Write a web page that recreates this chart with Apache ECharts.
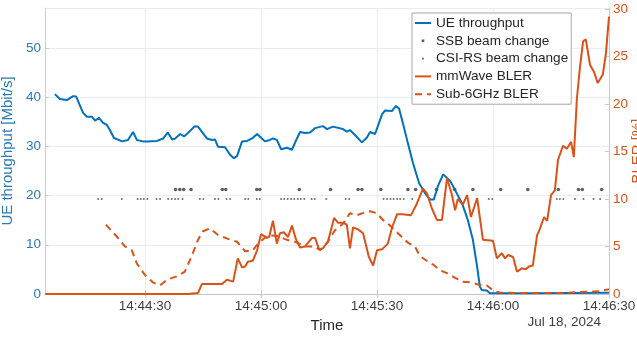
<!DOCTYPE html>
<html>
<head>
<meta charset="utf-8">
<title>UE throughput and BLER</title>
<script src="https://cdn.jsdelivr.net/npm/echarts@6/dist/echarts.min.js"></script>
<style>
  html, body { margin: 0; padding: 0; background: #fff; }
  #chart { width: 637px; height: 338px; }
</style>
</head>
<body>
<div id="chart"></div>
<script>
// time is in seconds after 14:44:00 (Jul 18, 2024)
const xTicks = [30, 60, 90, 120, 150]
const xTickLabels = ['14:44:30', '14:45:00', '14:45:30', '14:46:00', '14:46:30']

// UE throughput [Mbit/s]
const tpTime = [6.7, 8.0, 9.8, 11.4, 12.2, 14.0, 15.0, 16.3, 17.1, 18.1, 19.1, 20.2, 20.9, 22.0, 24.1, 25.6, 26.1, 26.9, 27.9, 29.5,
    30.5, 31.0, 33.1, 34.7, 35.9, 37.0, 37.8, 39.1, 40.1, 41.1, 42.9, 43.7, 46.0, 47.3, 48.1, 48.9, 50.7, 52.0, 53.0, 53.8,
    55.1, 56.4, 57.7, 59.0, 59.7, 61.0, 62.3, 63.1, 64.1, 65.2, 66.7, 68.0, 69.3, 70.1, 71.4, 72.7, 74.0, 76.0, 77.1, 78.6,
    81.2, 82.2, 83.0, 84.3, 86.1, 87.4, 88.2, 89.5, 91.3, 92.1, 93.9, 94.9, 95.7, 96.7, 98.0, 99.3, 100.9, 102.4, 103.7, 104.7,
    105.8, 107.1, 108.9, 110.2, 112.0, 113.5, 114.8, 115.9, 116.6, 117.1, 118.4, 119.2, 130, 140, 150]
const tpValue = [40.6, 39.6, 39.4, 40.2, 40.1, 36.8, 36.0, 36.0, 35.2, 35.8, 34.8, 34.3, 33.3, 31.7, 31.0, 31.3, 31.3, 32.9, 31.3, 31.0,
    31.0, 30.8, 31.1, 31.6, 32.8, 31.4, 31.6, 32.5, 32.0, 32.7, 34.1, 34.0, 31.6, 31.3, 31.4, 29.9, 29.8, 28.3, 27.6, 28.0,
    31.0, 31.1, 31.6, 32.5, 32.0, 31.0, 31.3, 31.6, 31.3, 29.4, 29.7, 29.3, 31.6, 32.9, 32.7, 32.8, 33.7, 34.1, 33.5, 34.0,
    33.5, 33.0, 33.3, 32.3, 30.8, 31.8, 32.9, 32.5, 36.5, 37.3, 37.2, 38.2, 37.7, 34.7, 30.6, 26.6, 22.5, 20.5, 19.2, 19.2,
    22.0, 24.3, 23.0, 21.1, 18.4, 15.0, 11.0, 5.5, 1.5, 0.8, 0.7, 0.15, 0.15, 0.2, 0.25]

// mmWave BLER [%]
const mmTime = [4.2, 41.1, 41.6, 43.7, 44.7, 49.9, 51.2, 52.8, 54.0, 55.1, 55.9, 56.6, 57.9, 59.0, 60.0, 61.5, 62.1, 63.1, 64.1, 64.9,
    65.9, 67.0, 68.0, 69.0, 70.1, 71.4, 73.2, 74.0, 75.0, 76.0, 77.3, 78.9, 79.9, 81.2, 82.2, 83.0, 83.8, 85.1, 86.4, 87.9,
    89.0, 90.0, 91.3, 92.8, 93.9, 95.2, 96.5, 98.8, 100.3, 101.9, 102.9, 104.2, 105.5, 106.8, 108.1, 109.4, 110.2, 110.9, 112.2, 113.3,
    114.3, 114.8, 115.9, 117.4, 120.0, 121.0, 122.3, 123.1, 123.9, 125.2, 126.2, 127.5, 128.5, 129.3, 130.3, 131.4, 131.9, 133.2, 134.0, 135.0,
    136.0, 136.8, 138.1, 139.1, 140.2, 140.9, 141.7, 142.5, 143.3, 144.0, 145.1, 146.1, 147.1, 148.4, 149.2, 150.0]
const mmBler = [0, 0, 0.07, 0.1, 1.05, 1.05, 1.5, 1.3, 3.75, 2.8, 2.9, 3.4, 3.5, 4.6, 6.3, 5.9, 6.0, 7.7, 5.3, 6.4,
    6.5, 6.0, 7.2, 5.8, 4.9, 5.0, 5.9, 5.9, 4.7, 4.8, 5.5, 8.0, 7.5, 7.5, 7.3, 4.8, 7.0, 6.8, 6.4, 3.9,
    3.0, 4.6, 4.7, 5.3, 7.0, 8.4, 8.4, 8.3, 9.5, 11.1, 10.6, 9.0, 7.8, 7.8, 12.2, 10.4, 8.8, 10.0, 9.4, 10.4,
    8.1, 8.1, 10.1, 5.7, 5.6, 3.75, 4.3, 3.75, 4.1, 3.9, 2.35, 2.7, 2.6, 2.9, 3.0, 6.2, 6.6, 8.1, 7.7, 10.4,
    10.9, 14.1, 15.6, 15.3, 16.0, 14.4, 20.6, 23.9, 26.6, 26.8, 24.1, 23.4, 22.2, 23.1, 25.3, 29.2]

// Sub-6GHz BLER [%]
const subTime = [19.9, 22.8, 24.8, 26.6, 27.9, 30.0, 32.1, 33.9, 35.7, 38.5, 40.3, 42.2, 43.7, 45.0, 46.8, 48.9, 51.5, 53.8, 55.9, 57.9,
    59.2, 61.8, 64.4, 66.7, 68.8, 71.4, 74.0, 75.3, 77.3, 79.1, 81.2, 83.0, 84.8, 86.9, 88.2, 90.0, 91.5, 93.4, 95.4, 98.0,
    99.8, 101.1, 103.2, 104.5, 106.3, 108.1, 110.2, 112.2, 114.6, 116.6, 118.4, 120.3, 121.8, 127.0, 137.3, 145.1, 147.7, 150.0]
const subBler = [7.3, 6.0, 5.0, 4.6, 3.2, 2.0, 1.2, 0.9, 1.5, 1.9, 2.35, 4.1, 5.7, 6.6, 6.9, 6.2, 5.8, 5.5, 4.5, 4.6,
    5.3, 6.2, 6.1, 5.7, 5.5, 5.0, 5.0, 4.6, 5.5, 6.7, 7.4, 8.5, 8.3, 8.6, 8.7, 8.5, 7.8, 7.2, 6.4, 5.4,
    5.0, 4.0, 3.4, 3.1, 2.5, 2.2, 1.7, 1.3, 1.2, 0.95, 0.9, 0.3, 0.15, 0.1, 0.1, 0.25, 0.3, 0.5]

// beam change events, drawn as a row of markers on the BLER axis
const ssbTime = [37.9, 39.0, 40.0, 41.9, 50.0, 50.9, 58.9, 59.7, 69.9, 78.0, 85.1, 86.1, 91.0, 98.0, 100.0, 105.4, 110.1, 114.8,
    122.0, 129.0, 136.9, 142.1, 143.1, 148.1]
const ssbLevel = 11
const csiTime = [17.9, 18.8, 24.0, 28.1, 28.9, 29.7, 30.6, 33.0, 33.9, 36.0, 36.9, 37.8, 38.6, 39.7, 44.2, 45.1, 48.1, 49.0,
    51.1, 52.0, 55.9, 56.7, 58.9, 59.7, 65.2, 66.0, 66.9, 67.8, 68.6, 69.5, 70.3, 71.2, 73.1, 73.9, 76.9, 81.9, 82.8,
    91.7, 92.6, 93.5, 94.3, 95.2, 96.0, 96.9, 99.1, 118.9, 119.8, 136.5, 137.3, 138.2, 141.2, 143.4, 146.0, 147.7]
const csiLevel = 10

const font = 'Liberation Sans, Arial, Helvetica, sans-serif'
const blue = '#0072BD'
const orange = '#D95319'
const gridColor = '#e7eef3'

const pairs = (xs, ys) => xs.map((x, i) => [x, ys[i]])
const row = (xs, level) => xs.map(x => [x, level])
// small dot legend icon, padded to the legend item box
const dotIcon = s => `path://M0,0M16,14M${8 - s / 2},${7 - s / 2}h${s}v${s}h${-s}z`

const chart = echarts.init(document.getElementById('chart'))

chart.setOption({
    animation: false,
    backgroundColor: '#fff',
    textStyle: { fontFamily: font },
    grid: { left: 45, right: 28, top: 8, bottom: 44, containLabel: false, outerBoundsMode: 'none' },
    legend: {
        orient: 'vertical',
        left: 412,
        top: 13,
        itemWidth: 16,
        itemHeight: 14,
        itemGap: 3.8,
        padding: [3, 3, 3, 2],
        backgroundColor: '#fff',
        borderColor: '#a9a9a9',
        borderWidth: 1,
        borderRadius: 0,
        selectedMode: false,
        textStyle: { fontSize: 13.6, color: '#262626', fontFamily: font },
        data: [
            { name: 'UE throughput', itemStyle: { opacity: 0 } },
            { name: 'SSB beam change', icon: dotIcon(2.6), itemStyle: { color: '#333' } },
            { name: 'CSI-RS beam change', icon: dotIcon(1.8), itemStyle: { color: '#444' } },
            { name: 'mmWave BLER', itemStyle: { opacity: 0 } },
            { name: 'Sub-6GHz BLER', itemStyle: { opacity: 0 } }
        ]
    },
    xAxis: [{
        type: 'value',
        min: 4.14,
        max: 150,
        name: 'Time',
        nameLocation: 'middle',
        nameGap: 21,
        nameTextStyle: { fontSize: 15, color: '#262626' },
        axisLine: { lineStyle: { color: '#c6c6c6' } },
        axisTick: { inside: true, length: 4, customValues: xTicks, lineStyle: { color: '#c6c6c6' } },
        axisLabel: {
            customValues: xTicks,
            fontSize: 13.5,
            color: '#404040',
            margin: 5,
            formatter: v => xTickLabels[xTicks.indexOf(v)]
        },
        splitLine: { show: true, lineStyle: { color: gridColor } }
    }, {
        type: 'value',
        position: 'top',
        min: 4.14,
        max: 150,
        axisLine: { lineStyle: { color: '#c6c6c6' } },
        axisTick: { inside: true, length: 4, customValues: xTicks, lineStyle: { color: '#c6c6c6' } },
        axisLabel: { show: false },
        splitLine: { show: false }
    }],
    yAxis: [{
        type: 'value',
        min: 0,
        max: 58.1,
        interval: 10,
        name: 'UE throughput [Mbit/s]',
        nameLocation: 'middle',
        nameGap: 22,
        nameTextStyle: { fontSize: 15, color: '#2a78b6' },
        axisLine: { show: true, lineStyle: { color: '#bcd2e3' } },
        axisTick: { show: true, inside: true, length: 4, lineStyle: { color: '#bcd2e3' } },
        axisLabel: { fontSize: 13.5, color: '#2a78b6', margin: 4, showMaxLabel: false },
        splitLine: { lineStyle: { color: gridColor } }
    }, {
        type: 'value',
        min: 0,
        max: 30.1,
        interval: 5,
        position: 'right',
        name: 'BLER [%]',
        nameLocation: 'middle',
        nameGap: 21,
        nameMoveOverlap: false,
        nameTextStyle: { fontSize: 15, color: orange },
        axisLine: { show: true, lineStyle: { color: '#e6c2ad' } },
        axisTick: { show: true, inside: true, length: 4, lineStyle: { color: '#e6c2ad' } },
        axisLabel: { fontSize: 13.5, color: orange, margin: 4, showMaxLabel: false },
        splitLine: { show: false }
    }],
    series: [{
        name: 'UE throughput',
        type: 'line',
        yAxisIndex: 0,
        data: pairs(tpTime, tpValue),
        symbol: 'none',
        color: blue,
        lineStyle: { width: 2, color: blue }
    }, {
        name: 'SSB beam change',
        type: 'scatter',
        yAxisIndex: 1,
        data: row(ssbTime, ssbLevel),
        symbol: 'circle',
        symbolSize: 3.6,
        itemStyle: { color: '#3a3a3a' }
    }, {
        name: 'CSI-RS beam change',
        type: 'scatter',
        yAxisIndex: 1,
        data: row(csiTime, csiLevel),
        symbol: 'circle',
        symbolSize: 2,
        itemStyle: { color: '#4a4a4a' }
    }, {
        name: 'mmWave BLER',
        type: 'line',
        yAxisIndex: 1,
        data: pairs(mmTime, mmBler),
        symbol: 'none',
        color: orange,
        lineStyle: { width: 2, color: orange }
    }, {
        name: 'Sub-6GHz BLER',
        type: 'line',
        yAxisIndex: 1,
        data: pairs(subTime, subBler),
        symbol: 'none',
        color: orange,
        lineStyle: { width: 2, color: orange, type: [7, 5] }
    }],
    graphic: [{
        type: 'text',
        right: 36,
        top: 315,
        style: { text: 'Jul 18, 2024', fontSize: 13.5, fill: '#404040', fontFamily: font }
    }]
})
</script>
</body>
</html>
